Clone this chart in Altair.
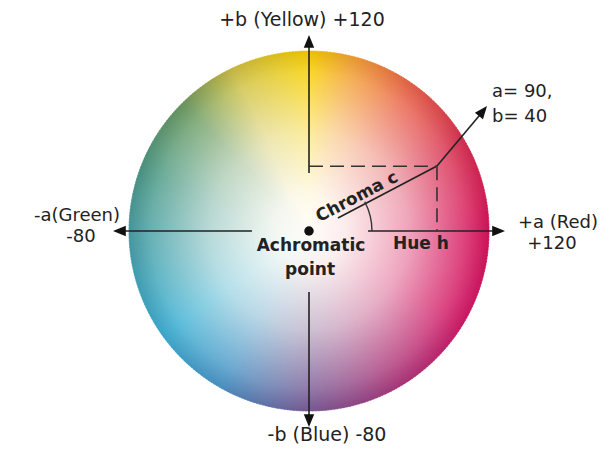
import math
import altair as alt
import pandas as pd
import numpy as np

# ---- colour wheel: edge hue colours (hue angle, degrees ccw from +a axis) ----
hue_angles = [0, 30, 55, 75, 90, 115, 135, 160, 180, 215, 240, 270, 300, 330, 360]
hue_colors = ["#d6145c", "#d83050", "#ea6448", "#f3a035", "#f8d000", "#cfc244",
              "#6c9c62", "#4b9a86", "#48a0a4", "#3cb0d4", "#4b98c8", "#7a5e98",
              "#ac3a7c", "#d21a66", "#d6145c"]

# white wash from the achromatic centre to the rim
wash_offsets = [0.0, 0.2, 0.55, 0.85, 1.0]
wash_alpha = [1.0, 0.93, 0.62, 0.22, 0.0]

# slight shading at the rim
rim_offsets = [0.0, 0.88, 1.0]
rim_alpha = [0.0, 0.0, 0.07]

# ---- geometry in a/b-like units (wheel radius = 100) ----
wheel_radius = [100]
hue_arc_radius = [35]
hue_angle_h = [27.7]

solid_u1 = [-105, 32.8, 0, 0, 16.1, 71.1]
solid_v1 = [0, 0, 105, -33.9, 7.2, 36.1]
solid_u2 = [-31.7, 105, 0, 0, 71.1, 97.0]
solid_v2 = [0, 0, 32.2, -105, 36.1, 67.0]

dash_u1 = [0, 71.1]
dash_v1 = [36.0, 36.0]
dash_u2 = [71.1, 71.1]
dash_v2 = [36.0, 0]

arrow_u = [0, 108.9, 0, -108.9, 98.9]
arrow_v = [108.9, 0, -108.9, 0, 69.4]
arrow_ang = [0, 90, 180, 270, 39]

center_u = [0]
center_v = [0]

label_text = ["+b (Yellow) +120", "-b (Blue) -80"]
label_u = [-3.9, 10.0]
label_v = [117.5, -113.6]

side_text = ["-a(Green)", "-80", "+a (Red)", "+120"]
side_u = [-128.9, -126.7, 138.3, 135.0]
side_v = [8.6, -3.4, 4.4, -7.2]

inner_text = ["Achromatic", "point", "Hue h"]
inner_u = [1.1, 0.6, 62.2]
inner_v = [-8.3, -21.7, -7.2]

point_text = ["a= 90,", "b= 40"]
point_u = [101.7, 101.7]
point_v = [77.2, 63.3]

chroma_text = ["Chroma c"]
chroma_u = [26.7]
chroma_v = [18.9]
chroma_ang = [332.3]

# ---- scales ----
xs = alt.Scale(domain=[-167.22, 163.89], nice=False, zero=False)
ys = alt.Scale(domain=[-118.89, 123.89], nice=False, zero=False)
ts = alt.Scale(domain=[0, 360], range=[math.pi / 2, math.pi / 2 - 2 * math.pi])
rs = alt.Scale(type="linear", domain=[0, 100], range=[0, 180])
hs = alt.Scale(domain=hue_angles, range=hue_colors, interpolate="rgb")

X = lambda f: alt.X(f, scale=xs, axis=None)
Y = lambda f: alt.Y(f, scale=ys, axis=None)

# wheel wedges (rendering grid over the hue circle)
step = 1
starts = np.arange(0, 360, step)
wedges = pd.DataFrame({
    "start": starts, "end": starts + step + 0.3, "mid": starts + step / 2,
    "r": wheel_radius[0], "u": 0.0, "v": 0.0,
})

wheel = alt.Chart(wedges).mark_arc(strokeWidth=0.6).encode(
    x=X("u:Q"), y=Y("v:Q"),
    theta=alt.Theta("start:Q", scale=ts, stack=False), theta2="end:Q",
    radius=alt.Radius("r:Q", scale=rs),
    color=alt.Color("mid:Q", scale=hs, legend=None),
    stroke=alt.Stroke("mid:Q", scale=hs, legend=None),
)

disc = pd.DataFrame({"start": [0], "end": [360], "r": wheel_radius, "u": [0.0], "v": [0.0]})


def radial(offsets, alphas, rgb):
    return {
        "gradient": "radial", "x1": 0.5, "y1": 0.5, "r1": 0,
        "x2": 0.5, "y2": 0.5, "r2": 0.5,
        "stops": [{"offset": o, "color": f"rgba({rgb},{a})"}
                  for o, a in zip(offsets, alphas)],
    }


def disc_layer(fill):
    return alt.Chart(disc).mark_arc(fill=fill).encode(
        x=X("u:Q"), y=Y("v:Q"),
        theta=alt.Theta("start:Q", scale=ts, stack=False), theta2="end:Q",
        radius=alt.Radius("r:Q", scale=rs),
    )


wash = disc_layer(radial(wash_offsets, wash_alpha, "255,253,248"))
rim = disc_layer(radial(rim_offsets, rim_alpha, "50,0,40"))

seg = pd.DataFrame({"u": solid_u1, "v": solid_v1, "u2": solid_u2, "v2": solid_v2})
solid = alt.Chart(seg).mark_rule(color="#222222", strokeWidth=1.6).encode(
    x=X("u:Q"), y=Y("v:Q"), x2="u2:Q", y2="v2:Q")

dseg = pd.DataFrame({"u": dash_u1, "v": dash_v1, "u2": dash_u2, "v2": dash_v2})
dashed = alt.Chart(dseg).mark_rule(color="#333333", strokeWidth=1.6,
                                   strokeDash=[14, 7]).encode(
    x=X("u:Q"), y=Y("v:Q"), x2="u2:Q", y2="v2:Q")

harc = pd.DataFrame({"start": [0], "end": hue_angle_h, "r": hue_arc_radius,
                     "u": [0.0], "v": [0.0]})
hue_arc = alt.Chart(harc).mark_arc(filled=False, stroke="#333333", strokeWidth=1.4).encode(
    x=X("u:Q"), y=Y("v:Q"),
    theta=alt.Theta("start:Q", scale=ts, stack=False), theta2="end:Q",
    radius=alt.Radius("r:Q", scale=rs), radius2="r:Q",
)

arr = pd.DataFrame({"u": arrow_u, "v": arrow_v, "a": arrow_ang})
arrows = alt.Chart(arr).mark_point(
    shape="M0,0L0.85,2.1L-0.85,2.1Z", filled=True, opacity=1,
    color="#111111", size=150).encode(
    x=X("u:Q"), y=Y("v:Q"),
    angle=alt.Angle("a:Q", scale=alt.Scale(domain=[0, 360], range=[0, 360])))

dot = alt.Chart(pd.DataFrame({"u": center_u, "v": center_v})).mark_point(
    shape="circle", filled=True, opacity=1, color="#111111", size=90).encode(
    x=X("u:Q"), y=Y("v:Q"))

FONT = "DejaVu Sans"
labels = alt.Chart(pd.DataFrame({"t": label_text, "u": label_u, "v": label_v})).mark_text(
    font=FONT, fontSize=19, color="#222222", align="center", baseline="middle").encode(
    x=X("u:Q"), y=Y("v:Q"), text="t:N")

side = alt.Chart(pd.DataFrame({"t": side_text, "u": side_u, "v": side_v})).mark_text(
    font=FONT, fontSize=18, color="#222222", align="center", baseline="middle").encode(
    x=X("u:Q"), y=Y("v:Q"), text="t:N")

inner = alt.Chart(pd.DataFrame({"t": inner_text, "u": inner_u, "v": inner_v})).mark_text(
    font=FONT, fontSize=17, fontWeight="bold", color="#222222", align="center",
    baseline="middle").encode(x=X("u:Q"), y=Y("v:Q"), text="t:N")

pt = alt.Chart(pd.DataFrame({"t": point_text, "u": point_u, "v": point_v})).mark_text(
    font=FONT, fontSize=18, color="#222222", align="left", baseline="middle").encode(
    x=X("u:Q"), y=Y("v:Q"), text="t:N")

chroma = alt.Chart(pd.DataFrame({"t": chroma_text, "u": chroma_u, "v": chroma_v,
                                 "a": chroma_ang})).mark_text(
    font=FONT, fontSize=17, fontWeight="bold", color="#222222", align="center",
    baseline="middle").encode(
    x=X("u:Q"), y=Y("v:Q"), text="t:N",
    angle=alt.Angle("a:Q", scale=alt.Scale(domain=[0, 360], range=[0, 360])))

chart = alt.layer(wheel, wash, rim, solid, dashed, hue_arc, arrows, dot,
                  labels, side, inner, pt, chroma).properties(
    width=596, height=437, padding=0, autosize="none", background="white"
).configure_view(strokeWidth=0)

chart.save("out.html", embed_options={"renderer": "svg", "actions": False})
